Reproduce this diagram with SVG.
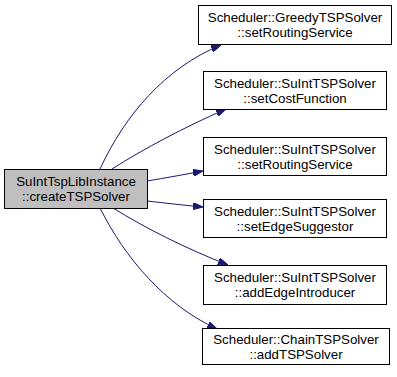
<svg xmlns="http://www.w3.org/2000/svg" width="397" height="377" viewBox="0 0 397 377">
  <style>
    .node rect { fill: #ffffff; stroke: #000000; stroke-width: 1; }
    .node.root rect { fill: #bfbfbf; }
    .node text { font-family: "Liberation Sans", Arial, sans-serif; font-size: 13.3px; fill: #000000; text-anchor: middle; }
    .edge { fill: none; stroke: #191970; stroke-width: 1; marker-end: url(#arrow); }
  </style>
  <defs>
    <marker id="arrow" viewBox="0 0 10 7" refX="10" refY="3.5" markerWidth="10" markerHeight="7" markerUnits="userSpaceOnUse" orient="auto">
      <polygon points="0,0 10,3.5 0,7" fill="#191970" stroke="#191970"/>
    </marker>
  </defs>
  <rect width="397" height="377" fill="#ffffff"/>

  <!-- call edges -->
  <g id="edges">
    <path class="edge" d="M100,169 C125,115 165,68 221,45"/>
    <path class="edge" d="M112,169 C145,148 185,127 226,109"/>
    <path class="edge" d="M147,181 C165,178 182,175 203,171"/>
    <path class="edge" d="M147,201 C165,203 182,205 203,207"/>
    <path class="edge" d="M113,208 C145,228 185,248 228,265"/>
    <path class="edge" d="M100,208 C125,258 165,305 217,329"/>
  </g>

  <g id="createTSPSolver" class="node root">
    <rect x="4.5" y="169.5" width="143" height="39"/>
    <text x="76" y="186">SuIntTspLibInstance</text>
    <text x="76" y="201">::createTSPSolver</text>
  </g>

  <g id="greedySetRoutingService" class="node">
    <rect x="198.5" y="5.5" width="193" height="39"/>
    <text x="295" y="22">Scheduler::GreedyTSPSolver</text>
    <text x="295" y="37">::setRoutingService</text>
  </g>

  <g id="suIntSetCostFunction" class="node">
    <rect x="203.5" y="71.5" width="183" height="38"/>
    <text x="295" y="88">Scheduler::SuIntTSPSolver</text>
    <text x="295" y="103">::setCostFunction</text>
  </g>

  <g id="suIntSetRoutingService" class="node">
    <rect x="203.5" y="137.5" width="183" height="38"/>
    <text x="295" y="154">Scheduler::SuIntTSPSolver</text>
    <text x="295" y="169">::setRoutingService</text>
  </g>

  <g id="suIntSetEdgeSuggestor" class="node">
    <rect x="203.5" y="199.5" width="183" height="38"/>
    <text x="295" y="216">Scheduler::SuIntTSPSolver</text>
    <text x="295" y="231">::setEdgeSuggestor</text>
  </g>

  <g id="suIntAddEdgeIntroducer" class="node">
    <rect x="203.5" y="265.5" width="183" height="39"/>
    <text x="295" y="282">Scheduler::SuIntTSPSolver</text>
    <text x="295" y="297">::addEdgeIntroducer</text>
  </g>

  <g id="chainAddTSPSolver" class="node">
    <rect x="202.5" y="328.5" width="187" height="36"/>
    <text x="296" y="344">Scheduler::ChainTSPSolver</text>
    <text x="296" y="359">::addTSPSolver</text>
  </g>
</svg>
